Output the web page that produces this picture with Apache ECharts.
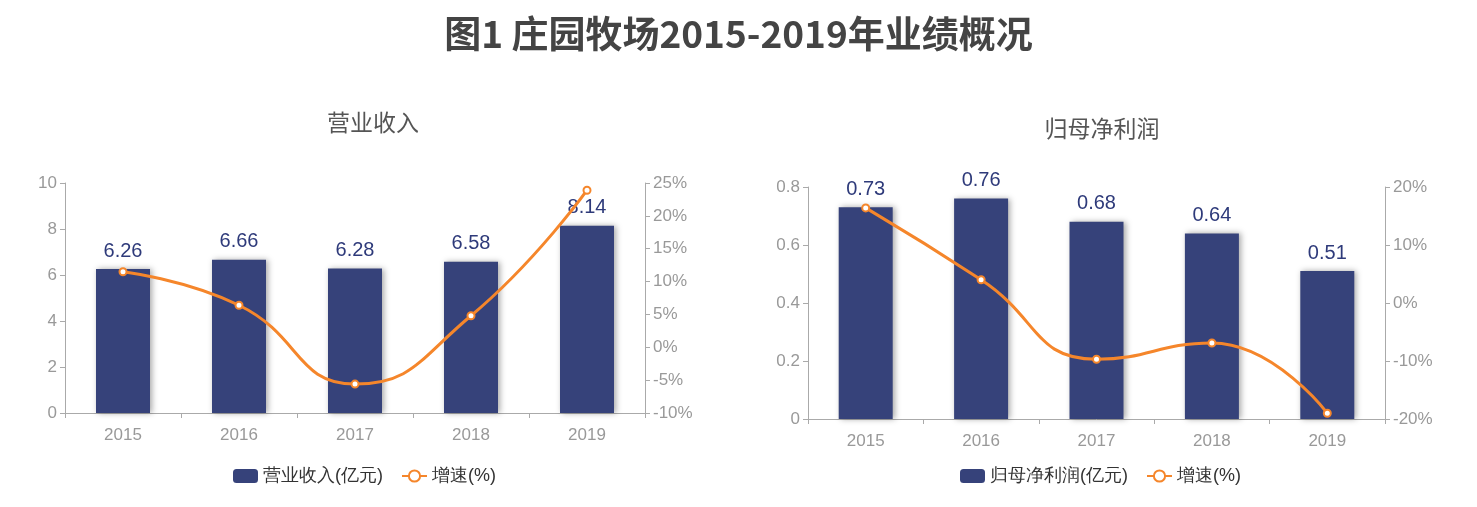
<!DOCTYPE html><html><head><meta charset="utf-8"><script src="https://cdn.jsdelivr.net/npm/echarts@6/dist/echarts.min.js"></script></head><body style="margin:0"><div id="c" style="width:1477px;height:507px"></div><script>
const years=['2015','2016','2017','2018','2019'];
const revenue=[6.26,6.66,6.28,6.58,8.14];
const revenueGrowth=[11.5,6.4,-5.6,4.8,23.9];
const profit=[0.73,0.76,0.68,0.64,0.51];
const profitGrowth=[16.4,4.0,-9.7,-6.9,-19.0];
const blue='#36427a',orange='#f5862b',gray='#999';
const FF='Liberation Sans';
const lbl={color:gray,fontSize:17,fontFamily:FF};
const axLine={show:true,lineStyle:{color:'#aaa'}};
function xA(g){return {type:'category',data:years,gridIndex:g,axisLine:axLine,axisTick:{show:true,lineStyle:{color:'#aaa'}},axisLabel:{...lbl,margin:14}};}
function yA(g,o){return Object.assign({type:'value',gridIndex:g,axisLine:axLine,axisTick:{show:true,lineStyle:{color:'#aaa'}},splitLine:{show:false},axisLabel:{...lbl}},o);}
const ch=echarts.init(document.getElementById('c'));
ch.setOption({
title:[{text:'图1 庄园牧场2015-2019年业绩概况',left:'center',top:10,textStyle:{fontSize:37,fontWeight:'bold',color:'#444',fontFamily:'Noto Sans CJK SC'}},
{text:'营业收入',left:368,textAlign:'center',top:106,textStyle:{fontSize:23,fontWeight:'normal',color:'#555',fontFamily:'Noto Sans CJK SC'}},
{text:'归母净利润',left:1097,textAlign:'center',top:112,textStyle:{fontSize:23,fontWeight:'normal',color:'#555',fontFamily:'Noto Sans CJK SC'}}],
grid:[{left:65,width:580,top:183,height:230},{left:808,width:577,top:187,height:232}],
legend:[{data:['营业收入(亿元)','增速(%)'],left:228,bottom:17,textStyle:{fontSize:18,color:'#333'},itemGap:18},
{data:['归母净利润(亿元)','增速(%) '],left:955,bottom:17,textStyle:{fontSize:18,color:'#333'},itemGap:18}],
xAxis:[xA(0),xA(1)],
yAxis:[yA(0,{min:0,max:10,interval:2}),yA(0,{min:-10,max:25,interval:5,position:'right',axisLabel:{...lbl,formatter:'{value}%'}}),
yA(1,{min:0,max:0.8,interval:0.2}),yA(1,{min:-20,max:20,interval:10,position:'right',axisLabel:{...lbl,formatter:'{value}%'}})],
series:[
{name:'营业收入(亿元)',type:'bar',xAxisIndex:0,yAxisIndex:0,data:revenue,barWidth:54,itemStyle:{color:blue,shadowColor:'rgba(0,0,0,0.35)',shadowBlur:6,shadowOffsetX:2},label:{show:true,position:'top',distance:8,color:'#2e3a7a',fontSize:20,fontFamily:FF}},
{name:'增速(%)',type:'line',smooth:true,xAxisIndex:0,yAxisIndex:1,data:revenueGrowth,symbol:'circle',symbolSize:7,itemStyle:{color:'#fff',borderColor:orange,borderWidth:2},lineStyle:{color:orange,width:3}},
{name:'归母净利润(亿元)',type:'bar',xAxisIndex:1,yAxisIndex:2,data:profit,barWidth:54,itemStyle:{color:blue,shadowColor:'rgba(0,0,0,0.35)',shadowBlur:6,shadowOffsetX:2},label:{show:true,position:'top',distance:8,color:'#2e3a7a',fontSize:20,fontFamily:FF}},
{name:'增速(%) ',type:'line',smooth:true,xAxisIndex:1,yAxisIndex:3,data:profitGrowth,symbol:'circle',symbolSize:7,itemStyle:{color:'#fff',borderColor:orange,borderWidth:2},lineStyle:{color:orange,width:3}}
]});
</script></body></html>
